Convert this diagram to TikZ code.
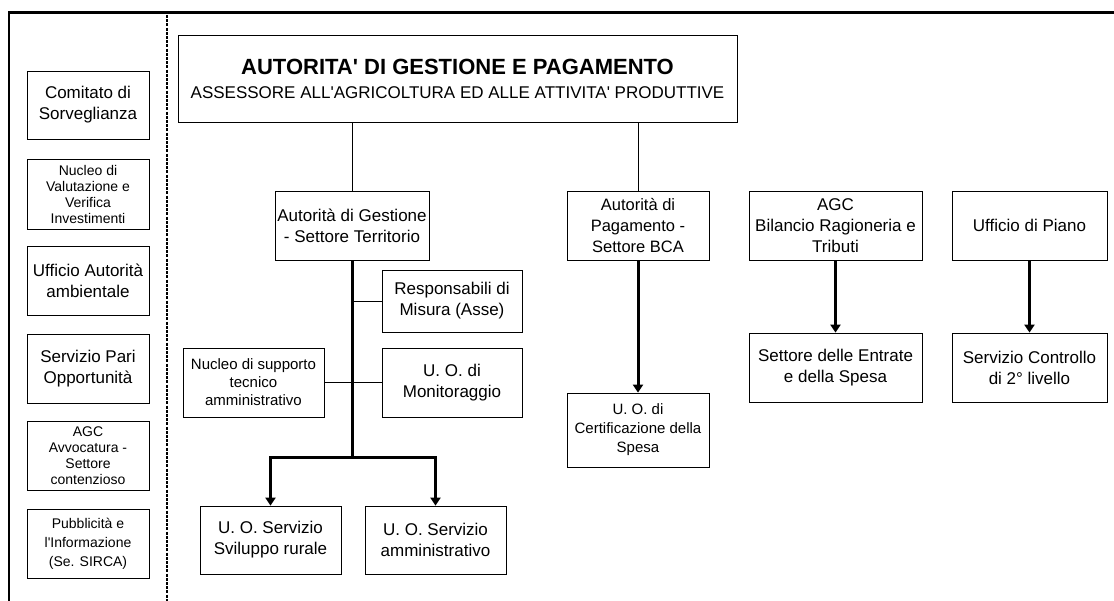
\documentclass[tikz,border=0pt]{standalone}
\usepackage{fontspec}
\setmainfont{Liberation Sans}
\usetikzlibrary{arrows.meta}

\newcommand{\apos}{\textquotesingle}

\tikzset{
  box/.style={draw, line width=0.8pt, align=center, inner sep=0pt,
    minimum height=69pt, font=\fontsize{17}{21}\selectfont},
  smallbox/.style={box, font=\fontsize{14}{16}\selectfont},
  link/.style={line width=0.8pt},
  trunk/.style={line width=3pt},
  feed/.style={trunk, -{Triangle[width=10pt,length=8pt]}},
}

\begin{document}
\begin{tikzpicture}[x=1pt, y=-1pt]
    \useasboundingbox (0,0) rectangle (1114,601);

    % frame and separator
    \draw[line width=2.5pt] (9,601) -- (9,12.5) -- (1114,12.5);
    \draw[line width=1.6pt, dash pattern=on 3pt off 1.2pt] (167,15) -- (167,601);

    % left column
    \node[box, minimum width=122pt, minimum height=68pt] (comitato) at (88,105) {Comitato di\\Sorveglianza};
    \node[smallbox, minimum width=122pt, minimum height=70pt] (valutazione) at (88,194) {Nucleo di\\Valutazione e\\Verifica\\Investimenti};
    \node[box, minimum width=122pt] (ambientale) at (88,280.5) {Ufficio Autorità\\ambientale};
    \node[box, minimum width=122pt] (opportunita) at (88,368.5) {Servizio Pari\\Opportunità};
    \node[smallbox, minimum width=122pt] (avvocatura) at (88,455.5) {AGC\\Avvocatura -\\Settore\\contenzioso};
    \node[smallbox, minimum width=122pt, font=\fontsize{14}{19}\selectfont] (pubblicita) at (88,543.5) {Pubblicità e\\l\apos Informazione\\(Se. SIRCA)};

    % head
    \node[box, minimum width=559pt, minimum height=87pt, font=\fontsize{17}{24}\selectfont] (autorita) at (457.5,78.5)
        {{\fontsize{22}{24}\selectfont\bfseries AUTORITA\apos{} DI GESTIONE E PAGAMENTO}\\ASSESSORE ALL\apos AGRICOLTURA ED ALLE ATTIVITA\apos{} PRODUTTIVE};

    % second row
    \node[box, minimum width=154pt] (gestione) at (352,225.5) {Autorità di Gestione\\- Settore Territorio};
    \node[box, minimum width=142pt, font=\fontsize{16.5}{21}\selectfont] (pagamento) at (638,225.5) {Autorità di\\Pagamento -\\Settore BCA};
    \node[box, minimum width=173pt] (bilancio) at (835.5,225.5) {AGC\\Bilancio Ragioneria e\\Tributi};
    \node[box, minimum width=155pt] (piano) at (1029.5,225.5) {Ufficio di Piano};

    % offices under the Autorita di Gestione
    \node[box, minimum width=140pt, minimum height=62pt] (responsabili) at (452,301) {Responsabili di\\Misura (Asse)};
    \node[box, minimum width=141pt, font=\fontsize{15}{18}\selectfont] (supporto) at (253.5,382.5) {Nucleo di supporto\\tecnico\\amministrativo};
    \node[box, minimum width=140pt] (monitoraggio) at (452,382.5) {U. O. di\\Monitoraggio};
    \node[box, minimum width=141pt, minimum height=68pt] (sviluppo) at (270.5,540) {U. O. Servizio\\Sviluppo rurale};
    \node[box, minimum width=141pt, minimum height=68pt] (amministrativo) at (435.5,540) {U. O. Servizio\\amministrativo};

    % lower offices
    \node[box, minimum width=142pt, minimum height=74pt, font=\fontsize{15}{19}\selectfont] (certificazione) at (638,430) {U. O. di\\Certificazione della\\Spesa};
    \node[box, minimum width=173pt] (entrate) at (835.5,367.5) {Settore delle Entrate\\e della Spesa};
    \node[box, minimum width=155pt] (controllo) at (1029.5,367.5) {Servizio Controllo\\di 2° livello};

    % connectors
    \draw[link] (autorita.south -| gestione.north) -- (gestione.north);
    \draw[link] (autorita.south -| pagamento.north) -- (pagamento.north);

    \coordinate (split) at (352,457);
    \draw[trunk] (gestione.south) -- (split);
    \draw[feed] (split) -| (sviluppo.north);
    \draw[feed] (split) -| (amministrativo.north);
    \draw[link] (responsabili.west) -- (responsabili.west -| gestione.south);
    \draw[link] (supporto.east) -- (monitoraggio.west);

    \draw[feed] (pagamento.south) -- (certificazione.north);
    \draw[feed] (bilancio.south) -- (entrate.north);
    \draw[feed] (piano.south) -- (controllo.north);
\end{tikzpicture}
\end{document}
